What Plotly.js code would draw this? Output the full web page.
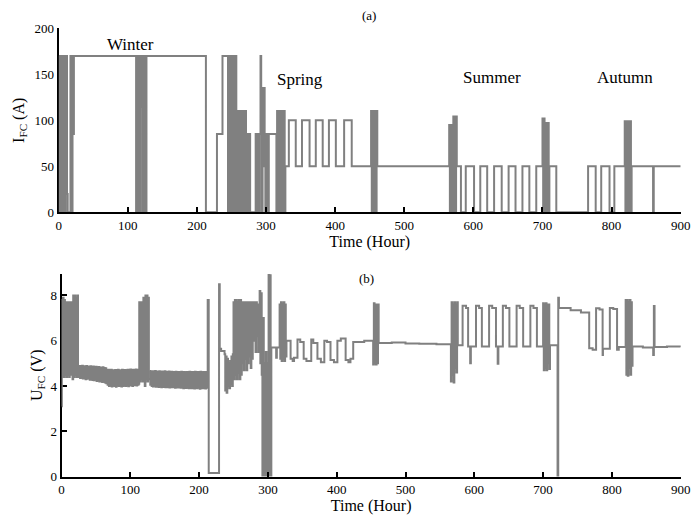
<!DOCTYPE html>
<html>
<head>
<meta charset="utf-8">
<script src="https://cdn.plot.ly/plotly-3.0.1.min.js"></script>
<style>html,body{margin:0;padding:0;background:#fff;}#chart{width:691px;height:521px;}</style>
</head>
<body>
<div id="chart"></div>
<script>
// ---------- (a) fuel-cell current, step data (hours, A) ----------
const tI = [0,1,2,3,4,5,6,7,8,9,10,12,13,
 17,18,19,20,21,22,
 112,113,114,115,116,117,118,119,120,121,122,123,124,125,126,127,
 213,229,237,245,
 246,247,248,249,250,251,252,253,254,255,256,257,
 258,259,260,261,262,263,264,265,266,267,268,269,270,271,
 272,273,274,275,276,277,
 285,286,287,288,289,290,291,292,293,294,295,296,297,298,299,300,301,302,303,304,
 315,316,317,318,319,320,321,322,323,324,325,326,327,328,
 333,343,352,363,372,382,391,401,413,424,
 452,453,454,455,456,457,458,459,460,461,
 565,566,567,568,569,570,571,572,573,574,575,576,
 582,589,601,610,620,630,641,651,661,671,681,691,
 700,701,702,703,704,705,706,707,708,709,710,
 720,766,777,785,797,804,
 819,820,821,822,823,824,825,826,827,828,829,
 860,861,900];
const IFC = [170,0,170,0,170,0,170,0,170,0,170,20,0,
 170,85,0,170,85,170,
 0,170,0,170,0,170,0,170,115,170,0,170,0,170,0,170,
 0,85,170,0,
 170,0,170,0,170,0,170,0,170,0,170,0,
 110,0,110,0,110,0,110,0,110,0,110,0,110,0,
 85,0,85,0,85,0,
 85,0,85,0,85,0,85,170,85,0,135,50,135,85,0,85,0,85,0,85,
 0,110,0,110,0,110,0,110,0,110,0,110,0,50,
 100,50,100,50,100,50,100,50,100,50,
 110,0,110,0,110,0,110,0,110,50,
 95,0,95,0,95,0,104,0,104,0,104,50,
 0,50,0,50,0,50,0,50,0,50,0,50,
 102,0,102,0,97,0,97,0,97,0,50,
 0,50,0,50,0,50,
 99,0,99,0,99,0,99,0,99,0,50,
 0,50,50];

// ---------- (b) fuel-cell voltage, step data (hours, V) ----------
const tU = [0,0.5,1,2,3,4,5,6,7,8,9,10,11,12,13,14,15,16,
 17,18,19,20,21,22,23,24,
 113,114,115,116,117,118,119,120,121,122,123,124,125,126,127,128,
 212.5,214,229,230,232,237,
 238,239,240,241,242,243,244,245,246,247,248,249,
 250,251,252,253,254,255,256,257,258,259,260,261,
 262,263,264,265,266,267,268,269,270,271,272,273,274,275,276,277,278,
 280,281,282,283,284,285,286,287,288,289,290,291,292,293,294,295,296,297,298,299,300,301,302,303,304,305,
 312,313,317,318,319,320,321,322,323,324,325,326,327,
 333,336,338,343,347,352,356,363,366,372,377,382,386,391,396,401,406,413,417,420,424,
 440,453,454,455,456,457,458,459,460,461,480,500,520,545,
 566,567,568,569,570,571,572,573,574,575,576,
 583,588,591,594,595,602.5,607,611,621.5,626,631.5,634,635,641.5,646,651,661.5,666,671,681.5,686,691,
 700,701,702,703,704,705,706,707,708,709,710,
 721,722,723,740,755,767,772,777,782,786.5,787,797,802,807.5,810,
 820,821,822,823,824,825,826,827,828,829,
 830,845,860,861,862,880,900];
const UFC = [3.1,7.8,4.5,7.9,4.4,7.8,4.5,7.7,4.4,7.7,4.5,7.7,4.4,7.7,4.5,7.7,4.9,4.3,
 8.0,4.4,8.0,4.5,7.9,4.4,8.0,4.5,
 7.7,4.2,7.7,4.3,7.7,4.2,7.9,4.3,4.0,8.0,4.3,8.0,4.2,7.9,4.3,4.3,
 7.8,0.15,8.5,5.65,5.55,5.4,
 3.8,5.3,3.7,5.2,4.0,5.0,3.9,5.1,4.1,5.3,4.0,5.4,
 7.7,4.3,7.8,4.5,7.8,4.3,7.7,4.6,7.8,4.3,7.8,4.5,
 7.7,5.0,7.7,4.7,7.7,5.2,7.7,4.7,7.7,5.0,7.7,5.3,7.7,4.8,7.7,5.2,7.7,
 6.0,7.7,5.5,7.7,6.2,7.6,5.5,7.6,8.2,5.0,8.1,4.5,0,7.0,0,5.0,0,5.5,4.5,0,5.0,8.96,0,8.9,0,5.7,
 5.25,5.7,7.6,5.2,7.7,5.1,7.6,5.2,7.7,5.1,7.6,5.3,6.0,
 5.2,5.1,5.25,6.05,5.95,5.2,5.1,6.05,5.9,5.2,5.05,6.0,5.95,5.15,5.05,6.0,6.1,5.15,5.05,5.2,5.95,
 6.0,4.95,7.66,5.0,7.6,4.95,7.6,5.0,7.6,5.9,5.92,5.88,5.87,5.85,
 4.2,7.7,4.5,7.6,4.15,7.7,4.8,7.6,4.6,7.7,5.8,
 7.55,7.45,5.75,5.0,5.75,7.55,7.45,5.75,7.55,7.45,5.75,4.98,5.75,7.55,7.45,5.75,7.55,7.45,5.75,7.55,7.45,5.75,
 7.66,4.7,7.6,4.8,7.66,4.7,7.6,5.0,7.6,4.75,5.8,
 0,7.9,7.45,7.35,7.25,5.67,5.6,7.44,7.38,5.37,5.65,7.45,7.4,5.6,5.72,
 7.8,4.5,7.8,4.45,7.7,4.8,7.8,4.5,7.7,4.9,
 5.75,5.7,5.37,7.54,5.72,5.75,5.72];

// winter noise band readings (hourly, alternating upper/lower edge)
const bandA_start = 24;
const bandA = [4.85,4.40,4.88,4.35,4.86,4.38,4.90,4.33,4.87,4.36,4.85,4.30,4.88,4.32,4.86,4.35,4.84,4.28,4.87,4.30,
 4.85,4.27,4.86,4.25,4.83,4.30,4.85,4.22,4.82,4.25,4.84,4.20,4.82,4.23,4.80,4.18,4.83,4.20,4.80,4.15,
 4.78,4.12,4.70,4.05,4.72,4.00,4.70,4.05,4.72,3.98,4.70,4.02,4.68,4.00,4.71,3.97,4.70,4.03,4.72,4.00,
 4.70,4.02,4.68,3.98,4.72,4.00,4.70,4.05,4.71,4.00,4.69,4.03,4.72,3.99,4.70,4.02,4.73,4.05,4.70,4.00,
 4.72,4.03,4.70,4.05,4.73,4.02,4.71,4.06,4.72,4.05];
const bandB_start = 128;
const bandB = [4.66,4.05,4.64,4.00,4.65,3.98,4.63,4.02,4.66,3.97,4.64,4.00,4.62,3.96,4.65,3.99,4.63,3.95,4.64,3.98,
 4.62,3.96,4.65,3.94,4.63,3.98,4.61,3.95,4.64,3.93,4.62,3.97,4.63,3.94,4.60,3.96,4.62,3.92,4.63,3.95,
 4.61,3.93,4.62,3.96,4.60,3.92,4.63,3.94,4.61,3.90,4.62,3.93,4.60,3.91,4.62,3.95,4.61,3.90,4.63,3.92,
 4.60,3.90,4.62,3.93,4.61,3.89,4.63,3.92,4.60,3.90,4.62,3.94,4.61,3.88,4.63,3.92,4.60,3.90,4.62,3.91,
 4.61,3.89,4.62,3.92,4.60];

const seasons = ['Winter','Spring','Summer','Autumn'];
const xTicks = [0,100,200,300,400,500,600,700,800,900];

const GRAY = '#808080';
const lineStyle = {color: GRAY, width: 2, shape: 'hv'};

const traces = [
  {x: tI, y: IFC, type: 'scatter', mode: 'lines', line: lineStyle, xaxis: 'x', yaxis: 'y', hoverinfo: 'skip'},
  {x: tU, y: UFC, type: 'scatter', mode: 'lines', line: lineStyle, xaxis: 'x2', yaxis: 'y2', hoverinfo: 'skip'},
  {x0: bandA_start, dx: 1, y: bandA, type: 'scatter', mode: 'lines', line: lineStyle, xaxis: 'x2', yaxis: 'y2', hoverinfo: 'skip'},
  {x0: bandB_start, dx: 1, y: bandB, type: 'scatter', mode: 'lines', line: lineStyle, xaxis: 'x2', yaxis: 'y2', hoverinfo: 'skip'}
];

const W = 691, H = 521;
const FONT = '"Liberation Serif", "Times New Roman", serif';
const axCommon = {
  showline: true, linecolor: 'black', linewidth: 2, mirror: false,
  ticks: 'inside', ticklen: 5, tickwidth: 2, tickcolor: 'black',
  showgrid: false, zeroline: false, fixedrange: true,
  tickfont: {family: FONT, size: 13, color: 'black', weight: 'normal'}
};
const xCommon = Object.assign({}, axCommon, {
  range: [0, 900], tickmode: 'array', tickvals: xTicks, ticktext: xTicks.map(String),
  title: {text: 'Time (Hour)', font: {family: FONT, size: 16, color: 'black', weight: 'normal'}, standoff: 0}
});

function ann(text, px, py, size) {
  return {text: text, x: px / W, y: 1 - py / H, xref: 'paper', yref: 'paper',
    xanchor: 'center', yanchor: 'middle', showarrow: false,
    font: {family: FONT, size: size, color: 'black', weight: 'normal'}};
}

const layout = {
  width: W, height: H,
  margin: {l: 0, r: 0, t: 0, b: 0},
  paper_bgcolor: 'white', plot_bgcolor: 'white',
  showlegend: false,
  font: {family: FONT, size: 13, color: 'black', weight: 'normal'},
  xaxis: Object.assign({}, xCommon, {domain: [58.7/W, 680.7/W], anchor: 'y', layer: 'above traces'}),
  yaxis: Object.assign({}, axCommon, {
    domain: [1 - 212.3/H, 1 - 28.3/H], anchor: 'x', range: [0, 200], dtick: 50, tick0: 0,
    layer: 'below traces',
    title: {text: 'I<sub>FC</sub> (A)', font: {family: FONT, size: 16, color: 'black', weight: 'normal'}, standoff: 6}
  }),
  xaxis2: Object.assign({}, xCommon, {domain: [61.5/W, 680.7/W], anchor: 'y2', layer: 'above traces'}),
  yaxis2: Object.assign({}, axCommon, {
    domain: [1 - 476.5/H, 1 - 274/H], anchor: 'x2', range: [0, 8.95], dtick: 2, tick0: 0,
    layer: 'below traces',
    title: {text: 'U<sub>FC</sub> (V)', font: {family: FONT, size: 16, color: 'black', weight: 'normal'}, standoff: 4}
  }),
  annotations: [
    ann('(a)', 369.5, 15, 13),
    ann('(b)', 366, 278, 13),
    ann(seasons[0], 130, 45, 17),
    ann(seasons[1], 300, 79, 17),
    ann(seasons[2], 492, 78, 17),
    ann(seasons[3], 625, 77, 17)
  ]
};

Plotly.newPlot('chart', traces, layout, {displayModeBar: false, staticPlot: true});
</script>
</body>
</html>
